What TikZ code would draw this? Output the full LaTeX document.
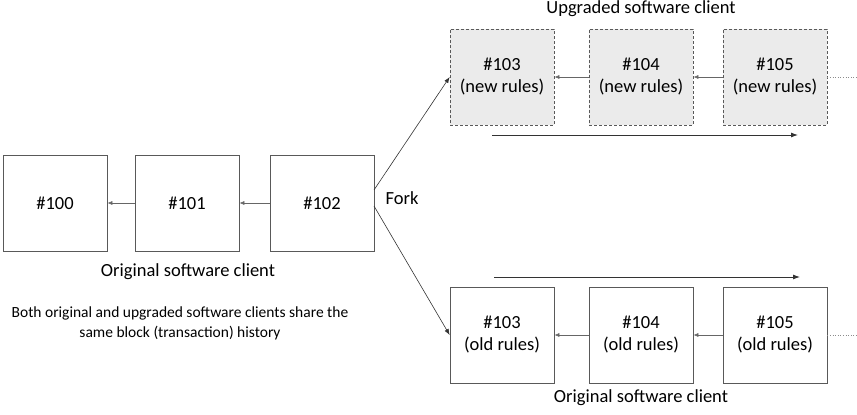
\documentclass[tikz,border=0pt]{standalone}
\usepackage{fontspec}
\setmainfont{Carlito}
\usetikzlibrary{arrows.meta}
\begin{document}
\begin{tikzpicture}[x=1pt,y=-1pt,
  blk/.style={draw=black!65,line width=0.7pt,minimum width=104pt,minimum height=96pt,align=center,font=\fontsize{18.5}{22}\selectfont,inner sep=0pt},
  newblk/.style={blk,fill=black!8,densely dashed},
  chain/.style={draw=black!60,solid,line width=0.6pt,-{Latex[length=5pt,width=4pt]}},
  forkln/.style={draw=black!80,solid,line width=0.6pt,-{Latex[length=6pt,width=4.5pt]}},
  dir/.style={draw=black!80,line width=0.9pt,-{Latex[length=7pt,width=5pt]}},
  tail/.style={draw=black!45,line width=0.6pt,dotted},
  lbl/.style={font=\fontsize{18.5}{22}\selectfont},
  note/.style={font=\fontsize{15.5}{20}\selectfont,align=center}]
\useasboundingbox (0,0) rectangle (857,415);
% left chain
\node[blk] (b100) at (55,203) {\#100};
\node[blk] (b101) at (187,203) {\#101};
\node[blk] (b102) at (322,203) {\#102};
\draw[chain] (b101) -- (b100);
\draw[chain] (b102) -- (b101);
\node[lbl] (lorig) at (188,272) {Original software client};
\node[note] (both) at (180,323) {Both original and upgraded software clients share the\\same block (transaction) history};
\node[lbl] (fork) at (402,198) {Fork};
% upper chain
\node[newblk] (n103) at (502,77) {\#103\\(new rules)};
\node[newblk] (n104) at (641,77) {\#104\\(new rules)};
\node[newblk] (n105) at (775,77) {\#105\\(new rules)};
\draw[chain] (n104.west) -- (n103.east);
\draw[chain] (n105.west) -- (n104.east);
\coordinate (nt) at (857,77);
\draw[tail] (n105.east) -- (nt);
\node[lbl] (lup) at (641,9) {Upgraded software client};
\coordinate (ua) at (492,135);
\coordinate (ub) at (798,135);
\draw[dir] (ua) -- (ub);
% lower chain
\node[blk] (o103) at (502,335) {\#103\\(old rules)};
\node[blk] (o104) at (641,335) {\#104\\(old rules)};
\node[blk] (o105) at (775,335) {\#105\\(old rules)};
\draw[chain] (o104) -- (o103);
\draw[chain] (o105) -- (o104);
\coordinate (ot) at (857,335);
\draw[tail] (o105.east) -- (ot);
\node[lbl] (ldown) at (641,398) {Original software client};
\coordinate (la) at (494,277);
\coordinate (lb) at (800,277);
\draw[dir] (la) -- (lb);
% fork
\coordinate (f1) at (374,190);
\coordinate (f2) at (374,206);
\draw[forkln] (f1) -- (n103.west);
\draw[forkln] (f2) -- (o103.west);
\end{tikzpicture}
\end{document}
